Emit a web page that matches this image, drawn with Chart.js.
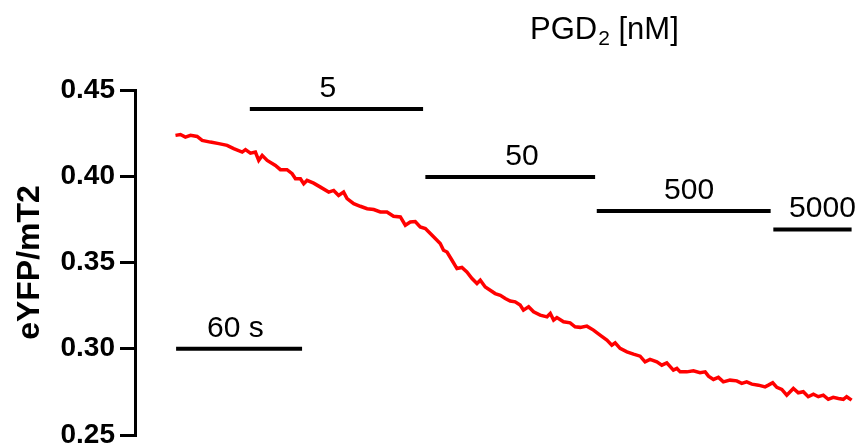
<!DOCTYPE html>
<html>
<head>
<meta charset="utf-8">
<script src="https://cdn.jsdelivr.net/npm/chart.js@4/dist/chart.umd.min.js"></script>
<style>
  html, body { margin: 0; padding: 0; background: #fff; }
  #wrap { width: 862px; height: 447px; }
</style>
</head>
<body>
<div id="wrap"><canvas id="c" width="862" height="447"></canvas></div>
<script>
// ---- data (time in seconds, ratio eYFP/mT2) ----
const times = [0,2.4,4.8,7.3,10.5,12.9,16.9,21.0,25.0,28.2,
  32.3,33.9,36.3,38.7,40.3,42.0,44.4,48.4,50.8,54.0,
  56.5,58.1,60.5,62.1,63.7,66.9,70.2,74.2,76.6,79.0,
  81.4,83.1,86.3,89.5,92.8,96.0,99.2,102.4,105.6,108.9,
  111.3,113.7,116.1,118.5,121.0,123.4,125.8,128.2,129.8,131.5,
  133.9,136.3,138.7,141.1,143.6,146.0,147.6,150.0,152.4,154.8,
  157.3,159.7,162.1,164.5,166.9,168.5,171.0,173.4,176.6,179.9,
  181.5,183.1,184.7,187.9,191.1,193.5,196.0,199.2,202.4,205.6,
  208.9,211.3,212.9,215.3,218.6,221.8,225.0,227.4,229.8,233.1,
  235.5,237.9,241.1,242.8,244.4,247.6,250.8,254.0,256.5,258.1,
  260.5,262.9,265.3,268.5,271.8,274.2,276.6,279.1,282.3,285.5,
  287.1,289.2,291.2,293.6,296.0,299.2,301.6,304.0,306.4,308.9,
  311.3,313.7,316.1,318.5,321.0,323.4,325.0,327.4];
const ratio = [0.4237,0.4242,0.4227,0.4237,0.4231,0.4208,0.4198,0.4189,0.4179,0.4160,
  0.4140,0.4154,0.4134,0.4140,0.4092,0.4121,0.4092,0.4063,0.4038,0.4038,
  0.4015,0.3986,0.3986,0.3957,0.3976,0.3960,0.3937,0.3908,0.3918,0.3889,
  0.3908,0.3870,0.3841,0.3826,0.3812,0.3807,0.3793,0.3793,0.3768,0.3764,
  0.3716,0.3735,0.3737,0.3706,0.3697,0.3668,0.3639,0.3610,0.3571,0.3561,
  0.3513,0.3465,0.3471,0.3445,0.3407,0.3378,0.3397,0.3358,0.3339,0.3320,
  0.3310,0.3291,0.3277,0.3272,0.3253,0.3224,0.3243,0.3214,0.3195,0.3185,
  0.3204,0.3166,0.3181,0.3156,0.3150,0.3127,0.3124,0.3131,0.3108,0.3079,
  0.3050,0.3021,0.3034,0.3002,0.2982,0.2969,0.2957,0.2924,0.2938,0.2924,
  0.2905,0.2918,0.2876,0.2886,0.2866,0.2866,0.2872,0.2861,0.2866,0.2841,
  0.2822,0.2834,0.2808,0.2818,0.2814,0.2799,0.2808,0.2795,0.2789,0.2779,
  0.2789,0.2803,0.2776,0.2764,0.2731,0.2770,0.2745,0.2751,0.2722,0.2737,
  0.2722,0.2731,0.2707,0.2718,0.2712,0.2707,0.2722,0.2702];

// application bars (PGD2 concentrations) and the 60 s scale bar
const barLabels = ['5', '50', '500', '5000', '60 s'];
const barStart  = [36.0, 121.0, 204.0, 289.5, 0.3];
const barEnd    = [119.9, 203.2, 288.2, 327.4, 61.3];
const barLevel  = [0.439, 0.3995, 0.3798, 0.3692, 0.30];
const labelAt   = [73.8, 167.8, 248.7, 313.3, 29.0];

const yTicks = [0.25, 0.30, 0.35, 0.40, 0.45];
const yTitle = 'eYFP/mT2';
const topTitle = ['PGD', '2', ' [nM]'];

const FONT = '"Liberation Sans", Arial, Helvetica, sans-serif';

const datasets = [{
  data: times.map((t, i) => ({ x: t, y: ratio[i] })),
  borderColor: '#ff0000',
  borderWidth: 3.5,
  pointRadius: 0,
  showLine: true,
  tension: 0,
  clip: false
}];
barLabels.forEach((lab, i) => {
  datasets.push({
    data: [{ x: barStart[i], y: barLevel[i] }, { x: barEnd[i], y: barLevel[i] }],
    borderColor: '#000',
    borderWidth: 4,
    pointRadius: 0,
    showLine: true,
    clip: false
  });
});

const annot = {
  id: 'annot',
  afterDraw(chart) {
    const ctx = chart.ctx;
    const xs = chart.scales.x, ys = chart.scales.y;
    ctx.save();
    ctx.fillStyle = '#000';
    ctx.textBaseline = 'alphabetic';
    ctx.textAlign = 'center';
    ctx.font = '30px ' + FONT;
    barLabels.forEach((lab, i) => {
      ctx.fillText(lab, xs.getPixelForValue(labelAt[i]), ys.getPixelForValue(barLevel[i]) - 12);
    });
    // top title with subscript
    ctx.textAlign = 'left';
    let x = 530, y = 39;
    ctx.font = '31px ' + FONT;
    ctx.fillText(topTitle[0], x, y);
    x += ctx.measureText(topTitle[0]).width;
    ctx.font = '21px ' + FONT;
    ctx.fillText(topTitle[1], x + 1, y + 6);
    x += ctx.measureText(topTitle[1]).width + 1;
    ctx.font = '31px ' + FONT;
    ctx.fillText(topTitle[2], x, y);
    ctx.restore();
  }
};

new Chart(document.getElementById('c'), {
  type: 'scatter',
  data: { datasets },
  options: {
    responsive: false,
    animation: false,
    devicePixelRatio: 1,
    layout: { padding: { top: 90, bottom: 12, left: 0, right: 4 } },
    plugins: { legend: { display: false }, tooltip: { enabled: false }, title: { display: false } },
    scales: {
      x: {
        type: 'linear',
        display: false,
        min: -19.6,
        max: 330.5
      },
      y: {
        type: 'linear',
        min: 0.25,
        max: 0.45,
        afterBuildTicks(scale) { scale.ticks = yTicks.map(v => ({ value: v })); },
        afterFit(scale) { scale.width = 135; scale.paddingTop = 0; scale.paddingBottom = 0; },
        border: { display: true, color: '#000', width: 3 },
        grid: { drawOnChartArea: false, color: '#000', lineWidth: 3, tickLength: 15 },
        ticks: {
          color: '#000',
          padding: 5,
          font: { family: FONT, size: 28, weight: 'bold' },
          callback: v => v.toFixed(2)
        },
        title: {
          display: true,
          text: yTitle,
          color: '#000',
          font: { family: FONT, size: 32, weight: 'bold' },
          padding: { top: 11, bottom: 0 }
        }
      }
    }
  },
  plugins: [annot]
});
</script>
</body>
</html>
